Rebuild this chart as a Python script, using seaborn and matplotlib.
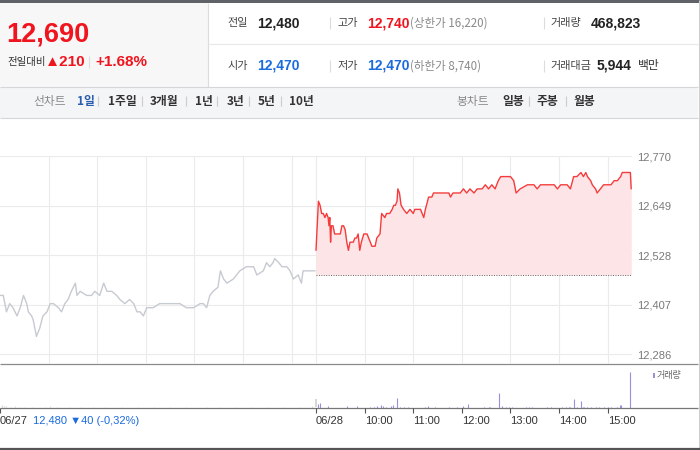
import matplotlib
matplotlib.use("Agg")
import matplotlib.pyplot as plt
import seaborn as sns
import numpy as np
import pandas as pd

# 06/27 분봉 (09:00 기준 경과 분, 가격)
prev_min = [0, 4, 6, 8, 12, 16, 21, 25, 29, 33, 35, 39, 41, 45, 49, 53, 58, 62, 66, 72,
            76, 80, 84, 88, 93, 95, 99, 107, 113, 117, 123, 128, 132, 138, 144, 148, 154, 160, 165, 169,
            173, 177, 181, 189, 197, 206, 214, 222, 230, 239, 247, 251, 255, 259, 263, 269, 272, 276, 280, 288,
            296, 304, 313, 317, 325, 329, 333, 337, 339, 344, 348, 354, 358, 362, 368, 372, 374, 378, 389]
prev_price = [12430, 12430, 12410, 12390, 12410, 12400, 12380, 12400, 12430, 12410,
              12390, 12380, 12370, 12330, 12350, 12380, 12390, 12410, 12410, 12400,
              12390, 12410, 12420, 12440, 12460, 12430, 12440, 12430, 12430, 12440,
              12430, 12460, 12440, 12440, 12430, 12420, 12410, 12420, 12410, 12390,
              12390, 12380, 12400, 12400, 12410, 12410, 12410, 12410, 12400, 12400,
              12410, 12410, 12400, 12430, 12440, 12450, 12490, 12470, 12460, 12470,
              12490, 12500, 12500, 12480, 12490, 12510, 12500, 12510, 12520, 12510,
              12500, 12500, 12490, 12470, 12480, 12460, 12490, 12490, 12490]

# 06/28 분봉
today_min = [0, 3, 5, 7, 9, 11, 13, 15, 16, 17, 18, 19, 21, 23, 30, 32, 34, 36, 38, 40,
             42, 46, 48, 50, 52, 54, 56, 59, 63, 65, 69, 73, 75, 79, 81, 85, 87, 89, 91, 94,
             96, 98, 100, 101, 103, 105, 108, 112, 116, 120, 122, 127, 129, 131, 133, 135, 139, 143, 145, 149,
             153, 158, 164, 166, 169, 178, 182, 186, 190, 195, 199, 205, 209, 213, 217, 221, 225, 228, 232, 240,
             244, 247, 252, 261, 269, 273, 277, 285, 294, 298, 302, 310, 314, 318, 322, 327, 330, 333, 335, 339,
             341, 345, 347, 351, 355, 364, 368, 372, 376, 378, 384, 388, 389]
today_price = [12540, 12660, 12650, 12630, 12630, 12620, 12630, 12620, 12600, 12620,
               12560, 12600, 12600, 12580, 12580, 12600, 12600, 12590, 12560, 12540,
               12560, 12560, 12570, 12570, 12580, 12540, 12560, 12580, 12580, 12570,
               12550, 12550, 12570, 12580, 12630, 12620, 12630, 12630, 12630, 12640,
               12650, 12650, 12660, 12690, 12680, 12650, 12640, 12630, 12640, 12630,
               12640, 12640, 12640, 12630, 12620, 12640, 12670, 12670, 12680, 12680,
               12680, 12680, 12680, 12670, 12680, 12680, 12690, 12680, 12690, 12680,
               12690, 12690, 12700, 12690, 12700, 12690, 12710, 12720, 12720, 12720,
               12710, 12680, 12690, 12700, 12700, 12690, 12700, 12700, 12700, 12690,
               12700, 12700, 12690, 12720, 12720, 12730, 12720, 12730, 12720, 12710,
               12700, 12690, 12680, 12690, 12700, 12700, 12710, 12710, 12720, 12730,
               12730, 12730, 12690]

# 거래량
vol_prev_min = [2, 5, 8, 12, 18, 25, 30, 40, 55, 62, 70, 85, 100, 115, 130, 150, 170, 190,
                210, 230, 255, 270, 290, 310, 330, 350, 370, 385]
vol_prev = [4000, 3000, 2500, 1500, 2000, 1500, 1500, 1000, 1500, 2000, 1500, 1000, 1000, 1500,
            1000, 1000, 1000, 1500, 1000, 1000, 1500, 1000, 1000, 1000, 1000, 1500, 1000, 2500]
vol_today_min = [3, 5, 15, 38, 51, 67, 71, 75, 80, 83, 87, 92, 95, 100, 104, 108, 114, 135, 138, 147,
                 164, 174, 182, 187, 207, 213, 215, 226, 230, 234, 238, 242, 259, 263, 267, 285, 290,
                 304, 308, 312, 314, 318, 319, 322, 327, 329, 331, 335, 339, 345, 349, 355, 360, 364,
                 372, 375, 377, 388]
vol_today = [6000, 7500, 2500, 2000, 2500, 1000, 1500, 2500, 4000, 2000, 1500, 2500, 4000, 15000,
             1000, 1000, 1000, 1500, 2500, 1000, 1000, 1000, 2500, 6000, 1000, 1500, 1000, 22500,
             2500, 1500, 1000, 1000, 1000, 1500, 1000, 1000, 1500, 1500, 1500, 1500, 1500, 13000,
             1500, 1500, 10000, 1500, 1500, 1500, 1500, 1500, 1500, 1500, 1500, 1500, 1500, 3500,
             4000, 53500]

prev_close = 12480
y_ticks = [12286, 12407, 12528, 12649, 12770]
time_labels = ["06/27", "06/28", "10:00", "11:00", "12:00", "13:00", "14:00", "15:00"]

session = 390  # 09:00 ~ 15:30
tick_pos = [0, session] + [session + (h - 9) * 60 for h in range(10, 16)]
grid_x = [h * 60 for h in range(1, 7)] + [session + h * 60 for h in range(0, 7)]

df_prev = pd.DataFrame({"t": prev_min, "price": prev_price})
df_today = pd.DataFrame({"t": np.array(today_min) + session, "price": today_price})

sns.set_theme(style="white")
plt.rcParams["font.family"] = ["Noto Sans CJK KR", "DejaVu Sans"]
NUM = ["Liberation Sans", "DejaVu Sans"]

RED = "#f0141e"
BLUE = "#1a6be0"
DARK = "#222222"
GRAY = "#8a8a8a"
LINE = "#dcdcdc"

fig = plt.figure(figsize=(7, 4.5), dpi=100)

# 배경 / 헤더 (픽셀 좌표)
bg = fig.add_axes([0, 0, 1, 1])
bg.set_xlim(0, 700)
bg.set_ylim(450, 0)
bg.axis("off")


def txt(x, y, s, size=8.5, color=DARK, weight="normal", family=None):
    bg.text(x, y, s, fontsize=size, color=color, fontweight=weight,
            family=family or plt.rcParams["font.family"], va="center", ha="left")


def hline(y, x0, x1, color=LINE, lw=0.8):
    bg.plot([x0, x1], [y, y], color=color, lw=lw, solid_capstyle="butt")


def vline(x, y0, y1, color=LINE, lw=0.8):
    bg.plot([x, x], [y0, y1], color=color, lw=lw, solid_capstyle="butt")


bg.add_patch(plt.Rectangle((0, 0), 700, 2.5, color="#5f6266", lw=0))
bg.add_patch(plt.Rectangle((0, 2.5), 208, 84.5, color="#f7f7f7", lw=0))
bg.add_patch(plt.Rectangle((0, 87), 698, 31, color="#f4f5f7", lw=0))
vline(208, 2.5, 87)
hline(44, 208, 698, color="#e8e8e8")
hline(87, 0, 698, color="#d4d6da")
hline(118, 0, 698, color="#d4d6da")
vline(698.5, 0, 450, color="#cfcfcf")

# 현재가
txt(6, 35, "12,690", size=19.5, color=RED, weight="bold", family=NUM)
txt(7, 62, "전일대비", size=7.5, color="#333333")
txt(45, 62, "▲210", size=11, color=RED, weight="bold", family=NUM)
vline(89, 56, 68)
txt(95, 62, "+1.68%", size=11, color=RED, weight="bold", family=NUM)

# 시세 정보
rows = [
    (23, [("전일", "12,480", DARK), ("고가", "12,740", RED), ("거래량", "468,823", DARK)],
     "(상한가 16,220)"),
    (66, [("시가", "12,470", BLUE), ("저가", "12,470", BLUE), ("거래대금", "5,944", DARK)],
     "(하한가 8,740)"),
]
label_x = [227, 337, 550]
value_x = [257, 367, 591]
for y, items, limit in rows:
    for (lab, val, col), lx, vx in zip(items, label_x, value_x):
        txt(lx, y, lab, size=8, color="#444444")
        if lab == "거래대금":
            vx = 597
        txt(vx, y, val, size=10, color=col, weight="bold", family=NUM)
    txt(410, y, limit, size=8.3, color=GRAY)
    vline(330, y - 6, y + 6)
    vline(544, y - 6, y + 6)
txt(638, 66, "백만", size=8.5, color="#333333")

# 탭 메뉴
tab_y = 101
txt(33, tab_y, "선차트", size=8.5, color=GRAY)
tabs = [("1일", 77), ("1주일", 108), ("3개월", 150), ("1년", 195), ("3년", 227), ("5년", 258), ("10년", 289)]
for i, (lab, x) in enumerate(tabs):
    txt(x, tab_y, lab, size=8.5, color="#2a5db0" if i == 0 else "#333333", weight="bold")
for x in [98, 142, 186, 217, 249, 281]:
    vline(x, tab_y - 5, tab_y + 5, color="#cccccc")
txt(456, tab_y, "봉차트", size=8.5, color=GRAY)
for lab, x in [("일봉", 502), ("주봉", 537), ("월봉", 573)]:
    txt(x, tab_y, lab, size=8.5, color="#333333", weight="bold")
for x in [529, 566]:
    vline(x, tab_y - 5, tab_y + 5, color="#cccccc")

# 패널 구분선
hline(364.3, 0, 698, color="#8a8a8a", lw=0.9)
hline(407.5, 0, 698, color="#777777", lw=0.9)
hline(448.8, 0, 700, color="#555555", lw=1.6)
vline(316, 399, 407, color="#d0d0d0", lw=1.2)

# 가격 차트
ax = fig.add_axes([0, (450 - 364.3) / 450, 632 / 700, (364.3 - 155.7) / 450])
ax.set_facecolor("none")
ax.fill_between(df_today["t"], df_today["price"], prev_close, color="#fde4e6", lw=0)
sns.lineplot(data=df_prev, x="t", y="price", ax=ax, color="#c6cad1", lw=1.0,
             estimator=None, sort=False)
sns.lineplot(data=df_today, x="t", y="price", ax=ax, color="#f53b3b", lw=1.0,
             estimator=None, sort=False)
ax.hlines(prev_close, df_today["t"].iloc[0], df_today["t"].iloc[-1],
          colors="#666666", linestyles=(0, (1, 1.5)), lw=0.7)
ax.set_xlim(0, 780)
ax.set_ylim(12261.9, 12771)
ax.set_xticks(grid_x)
ax.tick_params(axis="x", length=0, labelbottom=False)
ax.yaxis.tick_right()
ax.set_yticks(y_ticks)
ax.set_yticklabels([f"{v:,}" for v in y_ticks])
ax.tick_params(axis="y", length=0, pad=4, labelsize=8, labelcolor="#7a7a7a")
for lbl in ax.get_yticklabels():
    lbl.set_family(NUM)
ax.grid(True, color="#ebebeb", lw=0.8)
ax.set_xlabel("")
ax.set_ylabel("")
sns.despine(ax=ax, left=True, bottom=True)

# 거래량 차트
vax = fig.add_axes([0, (450 - 407.5) / 450, 632 / 700, (407.5 - 364.3) / 450])
vax.set_facecolor("none")
vax.vlines(vol_prev_min, 0, vol_prev, colors="#d3d6db", lw=0.8)
vax.vlines(np.array(vol_today_min) + session, 0, vol_today, colors="#9d8fd6", lw=0.8)
vax.set_xlim(0, 780)
vax.set_ylim(0, 64800)
vax.set_yticks([])
vax.set_xticks(tick_pos)
vax.set_xticklabels(time_labels)
vax.tick_params(axis="x", bottom=True, length=3.6, width=0.8, color="#555555", pad=2.5,
                labelsize=8, labelcolor="#333333", direction="out")
for lbl in vax.get_xticklabels():
    lbl.set_ha("left")
    lbl.set_family(NUM)
sns.despine(ax=vax, left=True, bottom=True)

txt(33, 421, "12,480 ▼40 (-0,32%)", size=8, color=BLUE, family=NUM)
bg.add_patch(plt.Rectangle((652.7, 372.7), 2, 5, color="#9d8fd6", lw=0))
txt(656.5, 375.3, "거래량", size=6.5, color="#666666")

fig.savefig("out.png", dpi=100)
